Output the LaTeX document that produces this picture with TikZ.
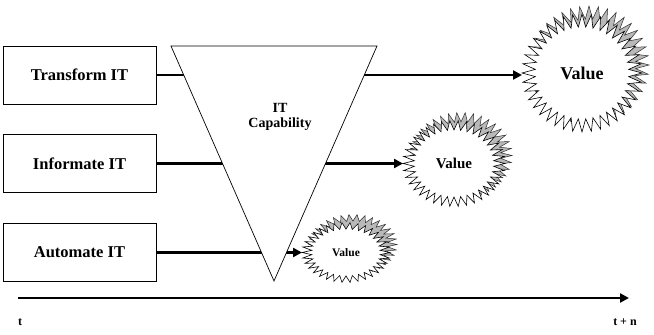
\documentclass[tikz,border=0pt]{standalone}
\usepackage{fontspec}
\setmainfont{Liberation Serif}[BoldFont={Liberation Serif Bold}]
\usetikzlibrary{arrows.meta,calc}
\newcommand\valuestar[7]{%
  % #1 cx, #2 cy, #3 rx, #4 ry, #5 depth ratio, #6 vertex count, #7 name
  \fill[gray!55,draw=gray!35!black,line width=0.5pt,shift={(7,-8)}]
    plot[samples=#6+1,domain=0:#6,variable=\k]
    ({#1+#3*(1-#5*mod(round(\k),2))*cos(\k/#6*360)},{#2+#4*(1-#5*mod(round(\k),2))*sin(\k/#6*360)}) -- cycle;
  \filldraw[fill=white,draw=black,line width=0.6pt]
    plot[samples=#6+1,domain=0:#6,variable=\k]
    ({#1+#3*(1-#5*mod(round(\k),2))*cos(\k/#6*360)},{#2+#4*(1-#5*mod(round(\k),2))*sin(\k/#6*360)}) -- cycle;
  \coordinate (#7) at (#1,#2);
  \coordinate (#7tip) at ({#1-#3},#2);
}
\begin{document}
\begin{tikzpicture}[x=1pt,y=-1pt,
  box/.style={draw,line width=0.7pt,minimum width=153pt,minimum height=58pt,inner sep=0pt,font=\fontsize{16.5}{18}\selectfont\bfseries},
  conn/.style={line width=2.8pt,-{Triangle[length=9pt,width=9pt]}}]
\useasboundingbox (0,0) rectangle (654,335);
% boxes
\node[box] (transform) at (79.5,75) {Transform IT};
\node[box] (informate) at (79.5,163.5) {Informate IT};
\node[box] (automate) at (79.5,252.5) {Automate IT};
% stars
\valuestar{582}{73}{60}{59}{0.22}{80}{bigstar}
\valuestar{454}{163.5}{51}{43}{0.22}{76}{medstar}
\valuestar{346}{252.5}{44}{30}{0.22}{68}{smallstar}
\node[font=\fontsize{18}{20}\selectfont\bfseries] (v1) at (bigstar) {Value};
\node[font=\fontsize{15}{17}\selectfont\bfseries] (v2) at (medstar) {Value};
\node[font=\fontsize{11.5}{13}\selectfont\bfseries] (v3) at (smallstar) {Value};
% connectors
\draw[conn] (transform.east) -- (transform.east -| bigstartip);
\draw[conn] (informate.east) -- (medstartip);
\draw[conn] (automate.east) -- (smallstartip);
% triangle
\coordinate (tl) at (171,46);
\coordinate (tr) at (377,46);
\coordinate (ap) at (274,281);
\filldraw[fill=white,draw=black,line width=0.7pt] (tl) -- (tr) -- (ap) -- cycle;
\node[font=\fontsize{14}{15.5}\selectfont\bfseries,align=center] (cap) at (280,117) {IT\\Capability};
% timeline
\coordinate (t0) at (18,298);
\coordinate (t1) at (629,298);
\draw[conn] (t0) -- (t1);
\node[font=\fontsize{12}{14}\selectfont\bfseries] (tlab) at (20,322) {t};
\node[font=\fontsize{12}{14}\selectfont\bfseries] (tnlab) at (625,322) {t + n};
\end{tikzpicture}
\end{document}
